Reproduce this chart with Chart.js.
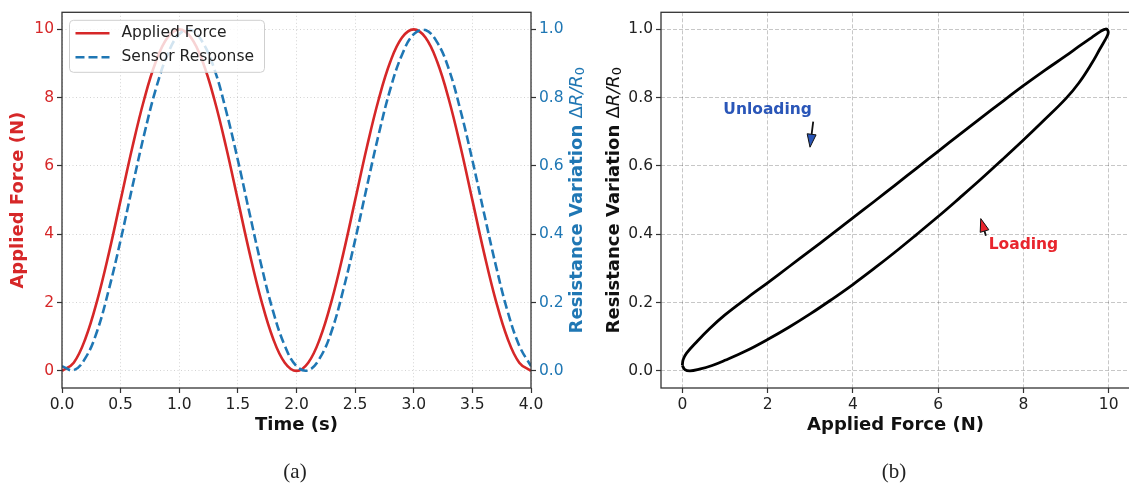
<!DOCTYPE html>
<html>
<head>
<meta charset="utf-8">
<script src="https://cdn.jsdelivr.net/npm/chart.js@4.4.0/dist/chart.umd.min.js"></script>
<style>
  html, body { margin: 0; padding: 0; background: #fff; }
  #fig { position: relative; width: 1129px; height: 490px; overflow: hidden; }
  #cyclic { position: absolute; left: 0; top: 0; }
  #loop { position: absolute; left: 600px; top: 0; }
  .cap { position: absolute; top: 459px; line-height: 24px; font: 21px 'Liberation Serif', serif; color: #222; transform: translateX(-50%); }
</style>
</head>
<body>
<div id="fig">
  <canvas id="cyclic" width="600" height="490"></canvas>
  <canvas id="loop" width="535" height="490"></canvas>
  <div class="cap" style="left:295px">(a)</div>
  <div class="cap" style="left:894px">(b)</div>
</div>
<script>
Chart.defaults.font.family = '"DejaVu Sans", sans-serif'
Chart.defaults.color = '#222'

const RED = '#d62728'
const BLUE = '#1f77b4'

// tick positions
const timeTicks = [0, 0.5, 1, 1.5, 2, 2.5, 3, 3.5, 4]
const forceTicks = [0, 2, 4, 6, 8, 10]
const responseTicks = [0, 0.2, 0.4, 0.6, 0.8, 1.0]
const loopForceTicks = [0, 2, 4, 6, 8, 10]

// cyclic loading test, sampled every 0.1 s
const time = [0, 0.1, 0.2, 0.3, 0.4, 0.5, 0.6, 0.7, 0.8, 0.9, 1.0,
  1.1, 1.2, 1.3, 1.4, 1.5, 1.6, 1.7, 1.8, 1.9, 2.0,
  2.1, 2.2, 2.3, 2.4, 2.5, 2.6, 2.7, 2.8, 2.9, 3.0,
  3.1, 3.2, 3.3, 3.4, 3.5, 3.6, 3.7, 3.8, 3.9, 4.0]
const appliedForce = [0, 0.24, 0.95, 2.06, 3.45, 5.00, 6.55, 7.94, 9.05, 9.76, 10.00,
  9.76, 9.05, 7.94, 6.55, 5.00, 3.45, 2.06, 0.95, 0.24, 0.00,
  0.24, 0.95, 2.06, 3.45, 5.00, 6.55, 7.94, 9.05, 9.76, 10.00,
  9.76, 9.05, 7.94, 6.55, 5.00, 3.45, 2.06, 0.95, 0.24, 0.00]
const sensorResponse = [0.014, 0.002, 0.038, 0.117, 0.239, 0.383, 0.539, 0.691, 0.825, 0.926, 0.986,
  0.998, 0.962, 0.883, 0.761, 0.617, 0.461, 0.309, 0.175, 0.074, 0.014,
  0.002, 0.038, 0.117, 0.239, 0.383, 0.539, 0.691, 0.825, 0.926, 0.986,
  0.998, 0.962, 0.883, 0.761, 0.617, 0.461, 0.309, 0.175, 0.074, 0.014]

// hysteresis loop: loading branch out to the tip, unloading branch back
const loopForce = [0.00, 0.06, 0.18, 0.40, 0.70, 1.00, 1.50, 2.00, 2.50, 3.00, 3.50, 4.00, 4.50,
  5.00, 5.50, 6.00, 6.50, 7.00, 7.50, 8.00, 8.50, 9.00, 9.30, 9.60, 9.80, 9.92, 9.985,
  9.98, 9.93, 9.82, 9.60, 9.30, 9.00, 8.50, 8.00, 7.50, 7.00, 6.50, 6.00, 5.50, 5.00,
  4.50, 4.00, 3.50, 3.00, 2.50, 2.00, 1.50, 1.00, 0.65, 0.35, 0.10, 0.02, 0.00]
const loopResponse = [0.016, 0.004, 0.000, 0.005, 0.016, 0.031, 0.059, 0.092, 0.128, 0.167, 0.209, 0.253, 0.300,
  0.349, 0.400, 0.452, 0.506, 0.561, 0.618, 0.676, 0.736, 0.798, 0.843, 0.900, 0.944, 0.970, 0.987,
  0.997, 1.001, 0.995, 0.976, 0.950, 0.923, 0.880, 0.835, 0.788, 0.740, 0.692, 0.643, 0.594, 0.545,
  0.496, 0.448, 0.400, 0.352, 0.305, 0.258, 0.212, 0.164, 0.125, 0.087, 0.052, 0.033, 0.016]

const toPoints = (xs, ys) => xs.map((x, i) => ({ x: x, y: ys[i] }))
const fixTicks = values => scale => { scale.ticks = values.map(v => ({ value: v })) }

// axis box on all sides
const frame = {
  id: 'frame',
  afterDatasetsDraw(chart) {
    const { ctx, chartArea: a } = chart
    ctx.save()
    ctx.strokeStyle = '#333'
    ctx.lineWidth = 1.3
    ctx.strokeRect(a.left, a.top, a.right - a.left, a.bottom - a.top)
    ctx.restore()
  }
}

// vertical axis titles with mixed fonts (bold words + math part)
function sideTitles(items) {
  return {
    id: 'sideTitles',
    afterDraw(chart) {
      const { ctx, chartArea: a } = chart
      const cy = (a.top + a.bottom) / 2
      items.forEach(item => {
        ctx.save()
        ctx.fillStyle = item.color
        ctx.textBaseline = 'middle'
        const widths = item.parts.map(p => { ctx.font = p.font; return ctx.measureText(p.text).width })
        const total = widths.reduce((s, w) => s + w, 0)
        ctx.translate(item.x, cy)
        ctx.rotate(-Math.PI / 2)
        let x = -total / 2
        item.parts.forEach((p, i) => {
          ctx.font = p.font
          ctx.fillText(p.text, x, p.dy || 0)
          x += widths[i]
        })
        ctx.restore()
      })
    }
  }
}

const resistanceTitle = [
  { text: 'Resistance Variation ', font: 'bold 18px "DejaVu Sans"' },
  { text: 'Δ', font: '18px "DejaVu Sans"' },
  { text: 'R/R', font: 'italic 18px "DejaVu Sans"' },
  { text: '0', font: '13px "DejaVu Sans"', dy: 4 }
]

// legend box in the upper left corner of the plot
const insetLegend = {
  id: 'insetLegend',
  afterDraw(chart) {
    const { ctx, chartArea: a } = chart
    const bx = a.left + 7.5, by = a.top + 8, bw = 195, bh = 52
    ctx.save()
    ctx.beginPath()
    ctx.roundRect(bx, by, bw, bh, 4)
    ctx.fillStyle = 'rgba(255,255,255,0.8)'
    ctx.fill()
    ctx.strokeStyle = '#cfcfcf'
    ctx.lineWidth = 1
    ctx.stroke()
    chart.data.datasets.forEach((ds, i) => {
      const y = by + 13 + i * 24
      ctx.beginPath()
      ctx.setLineDash(ds.borderDash || [])
      ctx.strokeStyle = ds.borderColor
      ctx.lineWidth = ds.borderWidth
      ctx.moveTo(bx + 6, y)
      ctx.lineTo(bx + 40, y)
      ctx.stroke()
      ctx.setLineDash([])
      ctx.fillStyle = '#222'
      ctx.font = '15.5px "DejaVu Sans"'
      ctx.textBaseline = 'middle'
      ctx.fillText(ds.label, bx + 52, y)
    })
    ctx.restore()
  }
}

// text notes with small arrows, placed in data units
const loopNotes = [
  { text: 'Unloading', color: '#2a56b8', at: [2.0, 0.765], tail: [3.07, 0.73], tip: [2.995, 0.655] },
  { text: 'Loading', color: '#e8252d', at: [8.0, 0.368], tail: [7.12, 0.396], tip: [7.0, 0.446] }
]
const arrowNotes = {
  id: 'arrowNotes',
  afterDatasetsDraw(chart) {
    const { ctx, scales: { x, y } } = chart
    ctx.save()
    loopNotes.forEach(n => {
      const tx = x.getPixelForValue(n.tail[0]), ty = y.getPixelForValue(n.tail[1])
      const px = x.getPixelForValue(n.tip[0]), py = y.getPixelForValue(n.tip[1])
      const len = Math.hypot(px - tx, py - ty)
      const ux = (px - tx) / len, uy = (py - ty) / len
      const hl = 13, hw = 4.5
      const bx = px - ux * hl, by = py - uy * hl
      ctx.beginPath()
      ctx.moveTo(tx, ty)
      ctx.lineTo(bx, by)
      ctx.strokeStyle = '#111'
      ctx.lineWidth = 1.8
      ctx.stroke()
      ctx.beginPath()
      ctx.moveTo(px, py)
      ctx.lineTo(bx - uy * hw, by + ux * hw)
      ctx.lineTo(bx + uy * hw, by - ux * hw)
      ctx.closePath()
      ctx.fillStyle = n.color
      ctx.fill()
      ctx.lineWidth = 1
      ctx.stroke()
      ctx.font = 'bold 15.5px "DejaVu Sans"'
      ctx.textAlign = 'center'
      ctx.textBaseline = 'middle'
      ctx.fillText(n.text, x.getPixelForValue(n.at[0]), y.getPixelForValue(n.at[1]))
    })
    ctx.restore()
  }
}

const tickFont = { size: 15.5 }

new Chart(document.getElementById('cyclic'), {
  type: 'line',
  data: {
    datasets: [{
      label: 'Applied Force',
      data: toPoints(time, appliedForce),
      yAxisID: 'y',
      borderColor: RED,
      borderWidth: 2.6,
      pointRadius: 0,
      tension: 0.4,
      order: 1
    }, {
      label: 'Sensor Response',
      data: toPoints(time, sensorResponse),
      yAxisID: 'y1',
      borderColor: BLUE,
      borderDash: [9, 4],
      borderWidth: 2.6,
      pointRadius: 0,
      tension: 0.4,
      order: 0
    }]
  },
  options: {
    responsive: false,
    animation: false,
    events: [],
    layout: { padding: { top: 6 } },
    plugins: { legend: { display: false }, tooltip: { enabled: false } },
    scales: {
      x: {
        type: 'linear', min: 0, max: 4,
        afterBuildTicks: fixTicks(timeTicks),
        afterFit: s => { s.height = 102 },
        ticks: { font: tickFont, color: '#222', padding: 3, maxRotation: 0, autoSkip: false, callback: v => v.toFixed(1) },
        grid: { color: 'rgba(0,0,0,0.22)', lineWidth: 0.8, tickColor: '#333', tickLength: 5, tickWidth: 1.2 },
        border: { display: false, dash: [1, 2.5] },
        title: { display: true, text: 'Time (s)', color: '#111', font: { size: 18, weight: 'bold' }, padding: { top: 0, bottom: 54 } }
      },
      y: {
        position: 'left', min: -0.5, max: 10.5,
        afterBuildTicks: fixTicks(forceTicks),
        afterFit: s => { s.width = 62 },
        ticks: { font: tickFont, color: RED, padding: 3, autoSkip: false },
        grid: { color: 'rgba(0,0,0,0.22)', lineWidth: 0.8, tickColor: '#333', tickLength: 5, tickWidth: 1.2 },
        border: { display: false, dash: [1, 2.5] }
      },
      y1: {
        position: 'right', min: -0.05, max: 1.05,
        afterBuildTicks: fixTicks(responseTicks),
        afterFit: s => { s.width = 69 },
        ticks: { font: tickFont, color: BLUE, padding: 3, autoSkip: false, callback: v => v.toFixed(1) },
        grid: { drawOnChartArea: false, tickColor: '#333', tickLength: 5, tickWidth: 1.2 },
        border: { display: false }
      }
    }
  },
  plugins: [frame, insetLegend, sideTitles([
    { x: 18.5, color: RED, parts: [{ text: 'Applied Force (N)', font: 'bold 18px "DejaVu Sans"' }] },
    { x: 577, color: BLUE, parts: resistanceTitle }
  ])]
})

new Chart(document.getElementById('loop'), {
  type: 'line',
  data: {
    datasets: [{
      label: 'Hysteresis',
      data: toPoints(loopForce, loopResponse),
      borderColor: '#000',
      borderWidth: 2.8,
      pointRadius: 0,
      tension: 0.4
    }]
  },
  options: {
    responsive: false,
    animation: false,
    events: [],
    layout: { padding: { top: 6, right: 5 } },
    plugins: { legend: { display: false }, tooltip: { enabled: false } },
    scales: {
      x: {
        type: 'linear', min: -0.5, max: 10.5,
        afterBuildTicks: fixTicks(loopForceTicks),
        afterFit: s => { s.height = 102 },
        ticks: { font: tickFont, color: '#222', padding: 3, maxRotation: 0, autoSkip: false },
        grid: { color: 'rgba(0,0,0,0.28)', lineWidth: 0.8, tickColor: '#333', tickLength: 5, tickWidth: 1.2 },
        border: { display: false, dash: [4, 2] },
        title: { display: true, text: 'Applied Force (N)', color: '#111', font: { size: 18, weight: 'bold' }, padding: { top: 0, bottom: 54 } }
      },
      y: {
        min: -0.05, max: 1.05,
        afterBuildTicks: fixTicks(responseTicks),
        afterFit: s => { s.width = 61 },
        ticks: { font: tickFont, color: '#222', padding: 3, autoSkip: false, callback: v => v.toFixed(1) },
        grid: { color: 'rgba(0,0,0,0.28)', lineWidth: 0.8, tickColor: '#333', tickLength: 5, tickWidth: 1.2 },
        border: { display: false, dash: [4, 2] }
      }
    }
  },
  plugins: [frame, arrowNotes, sideTitles([
    { x: 14, color: '#111', parts: resistanceTitle }
  ])]
})
</script>
</body>
</html>
